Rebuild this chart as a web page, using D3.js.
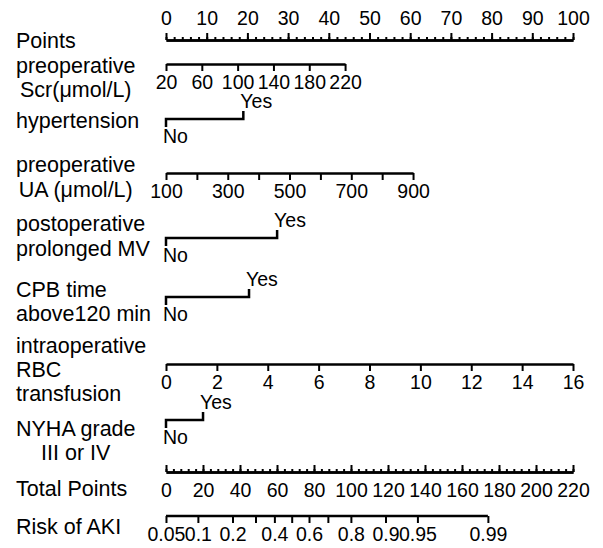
<!DOCTYPE html>
<html>
<head>
<meta charset="utf-8">
<script src="https://cdn.jsdelivr.net/npm/d3@7"></script>
<style>
  body { margin: 0; background: #fff; }
  text { font-family: "Liberation Sans", Arial, sans-serif; fill: #000; }
</style>
</head>
<body>
<div id="chart"></div>
<script>
// nomogram values
const pointsMajor = [0, 10, 20, 30, 40, 50, 60, 70, 80, 90, 100];
const scrTicks = [20, 60, 100, 140, 180, 220];
const scrPoints = [0, 44];
const uaTicks = [100, 200, 300, 400, 500, 600, 700, 800, 900];
const uaLabels = [100, 300, 500, 700, 900];
const uaPoints = [0, 60.7];
const rbcTicks = [0, 2, 4, 6, 8, 10, 12, 14, 16];
const rbcPoints = [0, 100];
const hypertensionYes = 19;
const mvYes = 27.3;
const cpbYes = 20.4;
const nyhaYes = 9.1;
const totalMajor = [0, 20, 40, 60, 80, 100, 120, 140, 160, 180, 200, 220];
const riskTicks = [0.05, 0.1, 0.2, 0.3, 0.4, 0.5, 0.6, 0.7, 0.8, 0.9, 0.95, 0.99];
const riskLabels = [0.05, 0.1, 0.2, 0.4, 0.6, 0.8, 0.9, 0.95, 0.99];
const riskIntercept = -2.944;   // logit at 0 total points
const riskSlope = 0.04333;      // logit per total point

const width = 603, height = 548;
const left = 166, right = 573;
const labelFont = 21.5, tickFont = 19.5;

const svg = d3.select("#chart").append("svg")
    .attr("width", width)
    .attr("height", height);

const x = d3.scaleLinear().domain([0, 100]).range([left, right]);
const xTotal = d3.scaleLinear().domain([0, 220]).range([left, right]);

function label(lines, align) {
    let g = svg.append("g").attr("class", "label");
    lines.forEach((l) => {
        g.append("text")
            .attr("x", 16)
            .attr("y", l[1])
            .attr("dy", "0.36em")
            .style("font-size", labelFont + "px")
            .text(l[0]);
    });
    if (align === "center") {
        let w = g.node().getBBox().width;
        g.selectAll("text").each(function () {
            let tw = this.getComputedTextLength();
            d3.select(this).attr("x", 16 + (w - tw) / 2);
        });
    }
}

function styleAxis(g, lineW) {
    g.select(".domain").attr("stroke-width", lineW).attr("stroke", "#000");
    g.selectAll(".tick line").attr("stroke-width", 2).attr("stroke", "#000");
    g.selectAll(".tick text")
        .style("font-size", tickFont + "px")
        .style("font-family", "'Liberation Sans', Arial, sans-serif")
        .attr("fill", "#000");
}

// continuous axis: ticks hang down, labels below
function contAxis(scale, ticks, labels, y) {
    let g = svg.append("g").attr("transform", "translate(0," + y + ")");
    g.call(d3.axisBottom(scale).tickValues(ticks).tickSize(7).tickSizeOuter(0)
        .tickPadding(4)
        .tickFormat((d) => labels.indexOf(d) >= 0 ? d : ""));
    styleAxis(g, 2.5);
    return g;
}

// binary: No tick down at 0, Yes tick up at its points
function binAxis(yesPts, y) {
    let g = svg.append("g");
    let x0 = x(0), x1 = x(yesPts);
    g.append("path")
        .attr("d", "M" + x0 + "," + (y + 8) + "V" + y + "H" + x1 + "V" + (y - 8))
        .attr("fill", "none")
        .attr("stroke", "#000")
        .attr("stroke-width", 2.5);
    g.append("text").attr("x", x1 - 3).attr("y", y - 18).attr("dy", "0.36em")
        .style("font-size", tickFont + "px").text("Yes");
    g.append("text").attr("x", x0 - 3).attr("y", y + 17).attr("dy", "0.36em")
        .style("font-size", tickFont + "px").text("No");
}

// Points
label([["Points", 40]]);
let pts = svg.append("g").attr("transform", "translate(0,40)");
pts.call(d3.axisTop(x).tickValues(d3.range(0, 101, 2)).tickSize(3).tickSizeOuter(0).tickFormat(""));
styleAxis(pts, 2.5);
let ptsMaj = svg.append("g").attr("transform", "translate(0,40)");
ptsMaj.call(d3.axisTop(x).tickValues(pointsMajor).tickSize(7).tickSizeOuter(0).tickPadding(8));
styleAxis(ptsMaj, 2.5);

// preoperative Scr
label([["preoperative", 65], ["Scr(\u03bcmol/L)", 89]], "center");
let scrScale = d3.scaleLinear().domain([scrTicks[0], scrTicks[scrTicks.length - 1]])
    .range([x(scrPoints[0]), x(scrPoints[1])]);
contAxis(scrScale, scrTicks, scrTicks, 64);

// hypertension
label([["hypertension", 120]]);
binAxis(hypertensionYes, 119);

// preoperative UA
label([["preoperative", 164], ["UA (\u03bcmol/L)", 189]], "center");
let uaScale = d3.scaleLinear().domain([uaTicks[0], uaTicks[uaTicks.length - 1]])
    .range([x(uaPoints[0]), x(uaPoints[1])]);
contAxis(uaScale, uaTicks, uaLabels, 173);

// postoperative prolonged MV
label([["postoperative", 223], ["prolonged MV", 248]]);
binAxis(mvYes, 238);

// CPB time
label([["CPB time", 289], ["above120 min", 313]]);
binAxis(cpbYes, 297);

// intraoperative RBC transfusion
label([["intraoperative", 345], ["RBC", 369], ["transfusion", 393]]);
let rbcScale = d3.scaleLinear().domain([rbcTicks[0], rbcTicks[rbcTicks.length - 1]])
    .range([x(rbcPoints[0]), x(rbcPoints[1])]);
contAxis(rbcScale, rbcTicks, rbcTicks, 364);

// NYHA grade
label([["NYHA grade", 428], ["III or IV", 452]], "center");
binAxis(nyhaYes, 420);

// Total Points
label([["Total Points", 488]]);
let tot = svg.append("g").attr("transform", "translate(0,472)");
tot.call(d3.axisTop(xTotal).tickValues(d3.range(0, 221, 4)).tickSize(3).tickSizeOuter(0).tickFormat(""));
styleAxis(tot, 2.5);
let totMaj = svg.append("g").attr("transform", "translate(0,472)");
totMaj.call(d3.axisTop(xTotal).tickValues(totalMajor).tickSize(7).tickSizeOuter(0).tickFormat(""));
styleAxis(totMaj, 2.5);
totMaj.selectAll(".tick").append("text")
    .attr("y", 18)
    .attr("dy", "0.36em")
    .attr("text-anchor", "middle")
    .style("font-size", tickFont + "px")
    .text((d) => d);

// Risk of AKI
label([["Risk of AKI", 526]]);
const logit = (p) => Math.log(p / (1 - p));
const riskToPts = (p) => (logit(p) - riskIntercept) / riskSlope;
let riskG = svg.append("g").attr("transform", "translate(0,516)");
let riskPts = riskTicks.map(riskToPts);
let labelPts = riskLabels.map(riskToPts);
riskG.call(d3.axisBottom(xTotal)
    .tickValues(riskPts).tickSize(7).tickSizeOuter(0).tickPadding(4)
    .tickFormat((d, i) => labelPts.some((v) => Math.abs(v - d) < 1e-6) ? riskTicks[i] : ""));
// domain spans only the risk range
riskG.select(".domain").attr("d",
    "M" + xTotal(riskPts[0]) + ",0H" + xTotal(riskPts[riskPts.length - 1]));
styleAxis(riskG, 2.5);
</script>
</body>
</html>
